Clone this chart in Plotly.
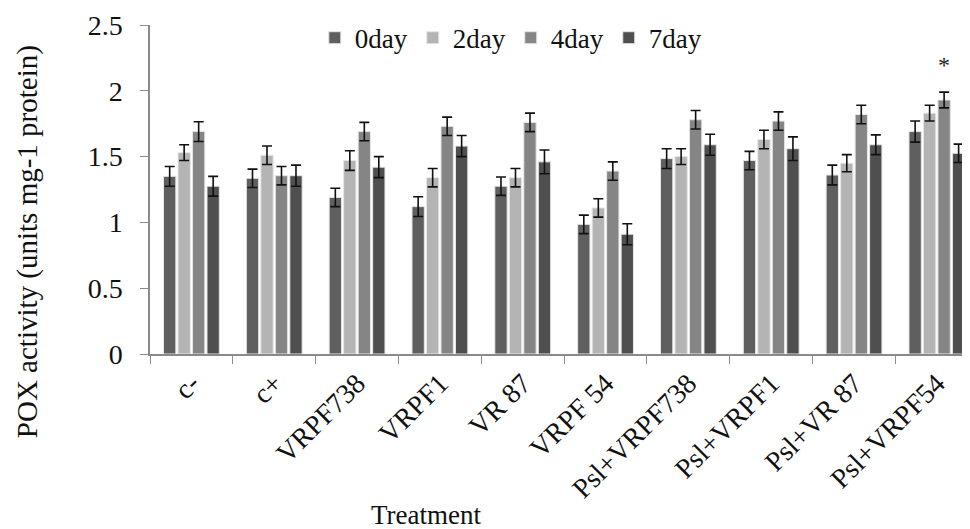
import plotly.graph_objects as go

categories = ["c-", "c+", "VRPF738", "VRPF1", "VR 87", "VRPF 54",
              "Psl+VRPF738", "Psl+VRPF1", "Psl+VR 87", "Psl+VRPF54"]
series_names = ["0day", "2day", "4day", "7day"]
day0 = [1.35, 1.335, 1.19, 1.12, 1.275, 0.985, 1.485, 1.47, 1.36, 1.69]
day2 = [1.53, 1.51, 1.47, 1.34, 1.34, 1.11, 1.50, 1.63, 1.45, 1.83]
day4 = [1.69, 1.355, 1.69, 1.73, 1.76, 1.39, 1.78, 1.77, 1.82, 1.93]
day7 = [1.275, 1.355, 1.42, 1.58, 1.46, 0.91, 1.59, 1.56, 1.59, 1.525]
err0 = [0.075, 0.07, 0.07, 0.075, 0.07, 0.07, 0.075, 0.07, 0.075, 0.08]
err2 = [0.06, 0.07, 0.075, 0.07, 0.07, 0.07, 0.06, 0.07, 0.065, 0.06]
err4 = [0.075, 0.07, 0.07, 0.07, 0.07, 0.07, 0.07, 0.07, 0.07, 0.06]
err7 = [0.075, 0.08, 0.08, 0.08, 0.09, 0.08, 0.08, 0.09, 0.075, 0.07]
colors = ["#5f5f5f", "#b4b4b4", "#858585", "#4f4f4f"]
yticks = [0, 0.5, 1, 1.5, 2, 2.5]
star_cat = 9
star_series = 2

values = [day0, day2, day4, day7]
errors = [err0, err2, err4, err7]

FONT = "Liberation Serif, Times New Roman, serif"

fig = go.Figure()
for name, v, e, c in zip(series_names, values, errors, colors):
    fig.add_trace(go.Bar(
        name=name, x=categories, y=v,
        marker=dict(color=c, line=dict(color="#e6e6e6", width=1)),
        error_y=dict(type="data", array=e, visible=True,
                     color="#111111", thickness=1.6, width=5),
    ))

# asterisk above the significant bar
star_val = values[star_series][star_cat] + errors[star_series][star_cat]
fig.add_annotation(x=star_cat + 0.09, y=star_val, xref="x", yref="y",
                   text="*", showarrow=False, yanchor="bottom", yshift=12,
                   font=dict(family=FONT, size=24, color="#222"))

# axis titles
fig.add_annotation(x=0.337, y=0, xref="paper", yref="paper", yanchor="top",
                   yshift=-144, text="Treatment", showarrow=False,
                   font=dict(family=FONT, size=27, color="#111"))
fig.add_annotation(x=0, y=0.34, xref="paper", yref="paper",
                   xanchor="center", yanchor="middle", xshift=-123,
                   textangle=-90, text="POX activity (units mg-1 protein)",
                   showarrow=False,
                   font=dict(family=FONT, size=29, color="#111"))

# page body adds an 8px offset, so the figure is 8px smaller and margins shifted
fig.update_layout(
    width=962, height=521,
    margin=dict(l=142, r=0, t=17, b=175),
    paper_bgcolor="white", plot_bgcolor="white",
    barmode="group", bargap=0.3, bargroupgap=0.15,
    font=dict(family=FONT, size=28, color="#111"),
    legend=dict(orientation="h", x=0.44, xanchor="center", y=0.96,
                yanchor="middle", font=dict(family=FONT, size=27),
                itemwidth=30, bgcolor="rgba(0,0,0,0)"),
    xaxis=dict(range=[-0.5, 9.4], showline=True, linecolor="#8a8a8a",
               linewidth=1.5, ticks="outside", tickson="boundaries",
               ticklen=8, tickcolor="#8a8a8a", tickangle=-45,
               automargin=False,
               tickfont=dict(family=FONT, size=28), showgrid=False),
    yaxis=dict(range=[0, 2.5], tickvals=yticks, showline=True,
               linecolor="#8a8a8a", linewidth=1.5, ticks="outside",
               ticklen=8, tickcolor="#8a8a8a", showgrid=False,
               zeroline=False, automargin=False, ticklabelstandoff=12,
               tickfont=dict(family=FONT, size=28)),
)

fig.write_html("out.html")
